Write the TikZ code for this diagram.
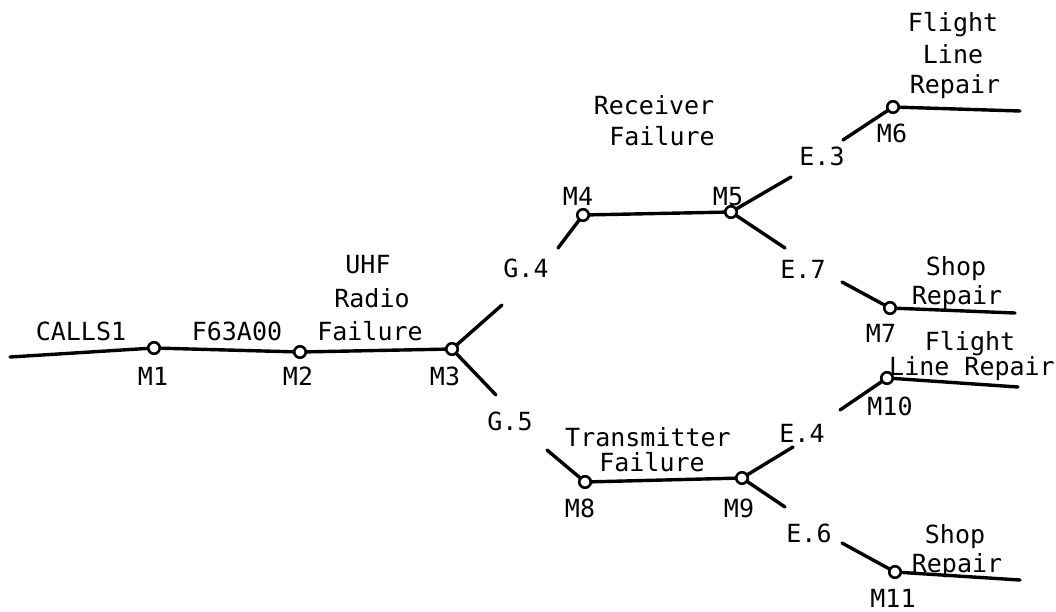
\documentclass[tikz,border=0pt]{standalone}
\usepackage{fontspec}
\setmainfont{DejaVu Sans Mono}
\begin{document}
\begin{tikzpicture}[x=1pt,y=-1pt,
  mk/.style={circle,draw,line width=2.6pt,fill=white,inner sep=0pt,minimum size=11.5pt},
  ln/.style={line width=3.4pt,line cap=round},
  tx/.style={anchor=base,inner sep=0pt,font=\fontsize{25}{29}\selectfont}]
\useasboundingbox (0,0) rectangle (1056,611);
% free ends
\coordinate (s0) at (10,357);
\coordinate (b3u) at (502,305);
\coordinate (b3d) at (496,395);
\coordinate (g4) at (558,248);
\coordinate (b5u) at (791,177);
\coordinate (b5d) at (785,248);
\coordinate (e3) at (843,140);
\coordinate (m6e) at (1020,111);
\coordinate (e7) at (842,282);
\coordinate (m7e) at (1015,313);
\coordinate (g5) at (547,450);
\coordinate (b9u) at (793,447);
\coordinate (b9d) at (785,507);
\coordinate (e4) at (840,410);
\coordinate (m10e) at (1018,387);
\coordinate (e6) at (842,543);
\coordinate (m11e) at (1020,580);
% connectors first
\draw[ln] (s0) -- (154,348) -- (300,352) -- (452,349);
\draw[ln] (452,349) -- (b3u);
\draw[ln] (452,349) -- (b3d);
\draw[ln] (g4) -- (583,215) -- (731,212);
\draw[ln] (731,212) -- (b5u);
\draw[ln] (731,212) -- (b5d);
\draw[ln] (e3) -- (893,107) -- (m6e);
\draw[ln] (e7) -- (890,308) -- (m7e);
\draw[ln] (g5) -- (585,482) -- (742,478);
\draw[ln] (742,478) -- (b9u);
\draw[ln] (742,478) -- (b9d);
\draw[ln] (e4) -- (887,378) -- (m10e);
\draw[ln] (e6) -- (895,572) -- (m11e);
% markers
\node[mk] (M1) at (154,348) {};
\node[mk] (M2) at (300,352) {};
\node[mk] (M3) at (452,349) {};
\node[mk] (M4) at (583,215) {};
\node[mk] (M5) at (731,212) {};
\node[mk] (M6) at (893,107) {};
\node[mk] (M7) at (890,308) {};
\node[mk] (M8) at (585,482) {};
\node[mk] (M9) at (742,478) {};
\node[mk] (M10) at (887,378) {};
\node[mk] (M11) at (895,572) {};
% labels
\node[tx] (tCalls) at (81,340) {CALLS1};
\node[tx] (tF63) at (237,340) {F63A00};
\node[tx] (tUHF1) at (368,273) {UHF};
\node[tx] (tUHF2) at (372,307) {Radio};
\node[tx] (tUHF3) at (370,340) {Failure};
\node[tx] (lM1) at (153,385) {M1};
\node[tx] (lM2) at (298,385) {M2};
\node[tx] (lM3) at (445,385) {M3};
\node[tx] (tRec1) at (654,114) {Receiver};
\node[tx] (tRec2) at (662,145) {Failure};
\node[tx] (lM4) at (578,205) {M4};
\node[tx] (lM5) at (728,205) {M5};
\node[tx] (tG4) at (526,277) {G.4};
\node[tx] (tE3) at (822,165) {E.3};
\node[tx] (tE7) at (803,278) {E.7};
\node[tx] (lM6) at (892,142) {M6};
\node[tx] (tFl1) at (953,31) {Flight};
\node[tx] (tFl2) at (953,63) {Line};
\node[tx] (tFl3) at (955,93) {Repair};
\node[tx] (tSh1) at (956,275) {Shop};
\node[tx] (tSh2) at (957,304) {Repair};
\node[tx] (lM7) at (881,342) {M7};
\node[tx] (tFl4) at (970,350) {Flight};
\node[tx] (tFl5) at (972,375) {Line Repair};
\node[tx] (lM10) at (890,415) {M10};
\node[tx] (tG5) at (510,430) {G.5};
\node[tx] (tTr1) at (648,446) {Transmitter};
\node[tx] (tTr2) at (652,471) {Failure};
\node[tx] (tE4) at (802,442) {E.4};
\node[tx] (lM8) at (580,517) {M8};
\node[tx] (lM9) at (739,517) {M9};
\node[tx] (tE6) at (809,542) {E.6};
\node[tx] (tSh3) at (955,543) {Shop};
\node[tx] (tSh4) at (957,572) {Repair};
\node[tx] (lM11) at (893,607) {M11};
\end{tikzpicture}
\end{document}
